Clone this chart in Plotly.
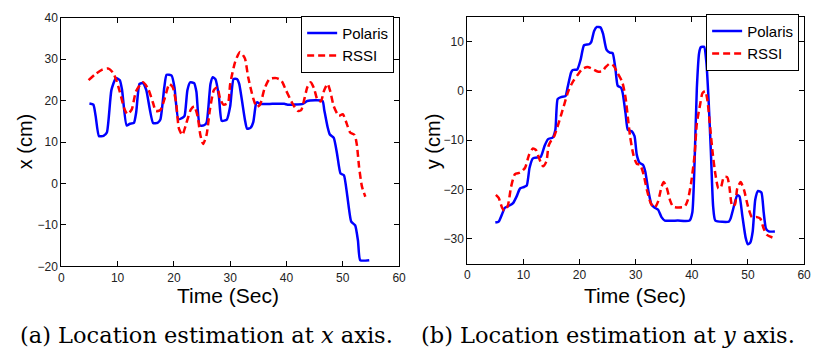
import plotly.graph_objects as go

# ---- (a) x axis ----
t_pol_x = [5.0, 5.7, 6.1, 6.7, 7.5, 8.1, 8.9, 9.7, 10.4, 10.8, 11.6, 12.2, 12.9, 13.3, 13.9, 14.5,
           15.1, 16.3, 17.1, 17.6, 18.3, 18.7, 19.6, 20.1, 20.8, 21.5, 21.9, 22.4, 22.9, 23.6, 24.0,
           24.6, 25.3, 25.8, 26.5, 26.9, 27.4, 28.0, 28.5, 29.4, 30.0, 30.6, 31.2, 31.6, 32.6, 33.0,
           33.6, 34.1, 34.6, 34.8, 35.3, 37.5, 39.6, 40.2, 42.9, 43.7, 46.4, 46.7, 47.3, 47.7, 48.4,
           49.0, 49.6, 50.2, 50.8, 51.5, 52.2, 52.7, 53.1, 54.7]
x_pol = [19.3, 19.0, 16.3, 11.4, 11.5, 12.3, 22.5, 25.4, 24.9, 22.5, 14.0, 14.4, 14.6, 17.1, 24.0, 24.2,
         22.5, 14.6, 14.6, 15.4, 23.2, 26.2, 26.0, 23.2, 15.5, 15.8, 16.3, 22.5, 24.4, 24.2, 22.1,
         14.0, 14.0, 14.6, 24.0, 25.6, 25.1, 20.9, 15.1, 15.4, 18.6, 25.2, 25.2, 24.0, 15.5, 13.2,
         13.4, 14.8, 19.4, 19.6, 19.2, 19.2, 19.2, 19.0, 19.2, 19.9, 19.9, 17.8, 13.6, 11.8, 11.0,
         7.0, 2.4, 2.0, -3.0, -9.2, -10.1, -13.8, -18.5, -18.5]

t_rssi_x = [4.85, 6.0, 7.2, 8.4, 9.2, 9.8, 10.4, 11.2, 11.75, 12.5, 13.3, 14.5, 15.4, 16.3, 16.8,
            17.6, 18.3, 19.2, 19.8, 20.4, 20.9, 21.5, 22.1, 23.0, 23.6, 24.2, 24.7, 25.2, 25.8, 26.4,
            27.1, 27.7, 28.2, 28.8, 29.6, 30.0, 30.9, 31.75, 32.6, 33.2, 34.1, 34.7, 35.3, 36.1, 37.0,
            38.2, 39.1, 39.9, 41.1, 42.0, 42.6, 43.2, 43.7, 44.3, 44.9, 45.5, 46.1, 46.7, 47.3, 47.8,
            48.4, 49.3, 50.0, 50.8, 51.3, 52.1, 52.5, 52.9, 53.4, 54.0]
x_rssi = [24.9, 26.3, 27.4, 27.7, 26.7, 24.8, 22.1, 18.0, 16.7, 17.8, 22.3, 24.4, 22.9, 19.4, 17.5,
          17.7, 20.2, 24.0, 23.2, 19.4, 13.2, 11.7, 14.0, 17.8, 18.6, 16.3, 11.7, 9.5, 11.7, 17.8,
          22.5, 23.2, 20.5, 19.0, 19.4, 24.0, 29.4, 31.7, 30.2, 25.6, 20.5, 18.5, 19.0, 22.9, 25.2,
          25.4, 24.8, 22.5, 19.2, 17.5, 17.7, 20.5, 23.2, 24.4, 22.9, 20.2, 19.8, 22.5, 24.0, 22.1,
          18.6, 16.3, 16.7, 14.0, 12.3, 11.7, 9.3, 3.9, -0.7, -3.2]

# ---- (b) y axis ----
t_pol_y = [5.0, 5.6, 6.2, 6.7, 7.6, 8.2, 8.8, 9.4, 10.1, 10.6, 11.1, 11.7, 12.6, 13.1, 13.8, 14.4,
           15.2, 15.7, 16.1, 16.7, 17.5, 17.9, 18.5, 18.8, 19.6, 20.2, 20.8, 21.7, 22.1, 22.6, 23.1,
           23.75, 24.2, 24.8, 25.4, 25.9, 26.4, 26.8, 27.4, 27.7, 28.2, 28.6, 29.3, 29.8, 30.2, 30.7,
           31.3, 31.7, 32.3, 32.8, 33.4, 34.0, 34.6, 35.2, 37.5, 39.6, 40.1, 40.5, 40.9, 41.3, 41.6,
           42.2, 42.6, 43.0, 43.4, 43.8, 44.2, 46.6, 46.9, 47.5, 48.1, 48.5, 49.0, 49.6, 50.0, 50.4,
           50.85, 51.3, 51.8, 52.4, 52.8, 53.2, 53.7, 54.8]
y_pol = [-26.7, -26.5, -25.0, -23.7, -23.2, -22.7, -21.4, -19.8, -19.5, -19.2, -15.6, -13.7, -13.5,
         -13.4, -11.1, -9.8, -9.5, -7.9, -1.7, -1.3, -1.1, 0.8, 3.7, 4.2, 4.3, 6.3, 9.2, 9.4, 9.9,
         12.1, 12.9, 12.8, 11.5, 8.3, 7.7, 7.6, 4.4, 1.0, 0.6, -0.5, -4.6, -7.9, -8.2, -9.2, -13.0,
         -14.6, -15.0, -16.3, -20.5, -23.0, -23.7, -24.1, -25.6, -26.3, -26.3, -26.3, -24.6, -14.3,
         0.5, 7.6, 8.8, 8.9, 5.7, -2.1, -12.4, -23.4, -26.3, -26.5, -25.9, -23.4, -21.1, -21.4,
         -25.3, -29.8, -31.1, -30.8, -28.5, -22.1, -20.3, -20.6, -24.6, -27.9, -28.5, -28.5]

t_rssi_y = [5.1, 5.6, 6.2, 6.6, 7.2, 7.8, 8.5, 9.4, 10.3, 11.0, 11.7, 12.3, 12.8, 13.5, 14.1, 14.5,
            15.1, 15.5, 16.1, 16.7, 17.3, 18.0, 18.8, 19.6, 20.5, 21.4, 22.3, 23.2, 24.0, 24.6, 25.4,
            26.1, 26.7, 27.6, 28.2, 28.6, 29.0, 29.6, 30.2, 30.8, 31.4, 32.0, 32.7, 33.4, 34.0, 34.6,
            35.0, 35.5, 36.1, 36.7, 38.7, 39.3, 39.9, 40.5, 40.9, 41.5, 41.9, 42.4, 42.8, 43.2, 43.7,
            44.2, 44.75, 45.2, 45.7, 46.3, 46.7, 47.2, 47.7, 48.1, 48.7, 49.3, 50.0, 50.7, 51.6, 52.2,
            52.8, 53.4, 54.8]
y_rssi = [-21.1, -21.7, -23.7, -24.3, -23.4, -19.5, -16.9, -16.6, -15.6, -13.0, -11.7, -12.1, -13.7,
          -15.3, -14.3, -11.1, -9.8, -9.2, -7.2, -5.0, -2.7, -0.1, 1.8, 3.1, 4.4, 4.8, 4.4, 3.9, 3.9,
          4.7, 5.5, 5.0, 3.7, 1.8, -1.4, -5.3, -9.2, -13.0, -14.8, -15.0, -16.9, -20.1, -22.8, -23.7,
          -22.4, -19.5, -18.5, -19.5, -22.1, -23.5, -23.5, -22.1, -18.5, -13.0, -6.6, -2.7, -0.5,
          -0.1, -2.1, -6.6, -12.4, -16.9, -19.8, -19.5, -17.5, -17.5, -19.5, -23.4, -23.0, -19.8,
          -18.5, -20.1, -23.4, -25.6, -25.6, -25.9, -27.9, -29.2, -29.9]

x_ticks = [0, 10, 20, 30, 40, 50, 60]
ya_ticks = [-20, -10, 0, 10, 20, 30, 40]
yb_ticks = [-30, -20, -10, 0, 10]
captions = ["(a) Location estimation at <i>x</i> axis.", "(b) Location estimation at <i>y</i> axis."]

W, H = 817, 358
BLUE, RED = "#0000FF", "#FF0000"
SANS = "Liberation Sans, Arial, sans-serif"

fig = go.Figure()
fig.add_trace(go.Scatter(x=t_pol_x, y=x_pol, name="Polaris", mode="lines",
                         line=dict(color=BLUE, width=2.5, shape="spline", smoothing=0.5),
                         xaxis="x", yaxis="y", legend="legend"))
fig.add_trace(go.Scatter(x=t_rssi_x, y=x_rssi, name="RSSI", mode="lines",
                         line=dict(color=RED, width=2.5, dash="7px,4px", shape="spline", smoothing=0.6),
                         xaxis="x", yaxis="y", legend="legend"))
fig.add_trace(go.Scatter(x=t_pol_y, y=y_pol, name="Polaris", mode="lines",
                         line=dict(color=BLUE, width=2.5, shape="spline", smoothing=0.5),
                         xaxis="x2", yaxis="y2", legend="legend2"))
fig.add_trace(go.Scatter(x=t_rssi_y, y=y_rssi, name="RSSI", mode="lines",
                         line=dict(color=RED, width=2.5, dash="7px,4px", shape="spline", smoothing=0.6),
                         xaxis="x2", yaxis="y2", legend="legend2"))

def px_x(p):
    return p / W

def px_y(p):
    return 1 - p / H

axis_common = dict(showline=True, linecolor="black", linewidth=1, mirror="ticks", ticks="inside",
                   ticklen=5, tickcolor="black", showgrid=False, zeroline=False,
                   tickfont=dict(family=SANS, size=12, color="#222"), fixedrange=True)

legend_common = dict(xanchor="right", yanchor="top", bgcolor="white",
                     bordercolor="black", borderwidth=1,
                     font=dict(family=SANS, size=15, color="black"),
                     tracegroupgap=0, itemwidth=30)

fig.update_layout(
    width=W, height=H, margin=dict(l=0, r=0, t=0, b=0),
    paper_bgcolor="white", plot_bgcolor="white",
    xaxis=dict(domain=[px_x(59), px_x(401)], range=[0, 60], tickvals=x_ticks, anchor="y", **axis_common),
    yaxis=dict(domain=[px_y(270), px_y(11)], range=[-20, 40], tickvals=ya_ticks, anchor="x", **axis_common),
    xaxis2=dict(domain=[px_x(470), px_x(811)], range=[0, 60], tickvals=x_ticks, anchor="y2", **axis_common),
    yaxis2=dict(domain=[px_y(267), px_y(10)], range=[-35, 15], tickvals=yb_ticks, anchor="x2", **axis_common),
    legend=dict(x=px_x(396), y=px_y(9), **legend_common),
    legend2=dict(x=px_x(806), y=px_y(7), **legend_common),
    showlegend=True,
)

ann = []
title_font = dict(family=SANS, size=21, color="black")
ann.append(dict(text="Time (Sec)", x=px_x(228), y=px_y(300), xref="paper", yref="paper",
                showarrow=False, font=title_font, xanchor="center", yanchor="middle"))
ann.append(dict(text="Time (Sec)", x=px_x(640), y=px_y(300), xref="paper", yref="paper",
                showarrow=False, font=title_font, xanchor="center", yanchor="middle"))
ann.append(dict(text="x (cm)", x=px_x(22), y=px_y(140), xref="paper", yref="paper", textangle=-90,
                showarrow=False, font=dict(family=SANS, size=20, color="black"),
                xanchor="center", yanchor="middle"))
ann.append(dict(text="y (cm)", x=px_x(435), y=px_y(140), xref="paper", yref="paper", textangle=-90,
                showarrow=False, font=dict(family=SANS, size=20, color="black"),
                xanchor="center", yanchor="middle"))
cap_font = dict(family="DejaVu Serif, serif", size=22.5, color="black")
ann.append(dict(text=captions[0], x=px_x(206), y=px_y(341), xref="paper", yref="paper",
                showarrow=False, font=cap_font, xanchor="center", yanchor="middle"))
ann.append(dict(text=captions[1], x=px_x(613), y=px_y(341), xref="paper", yref="paper",
                showarrow=False, font=cap_font, xanchor="center", yanchor="middle"))
fig.update_layout(annotations=ann)

fig.write_html("out.html")
